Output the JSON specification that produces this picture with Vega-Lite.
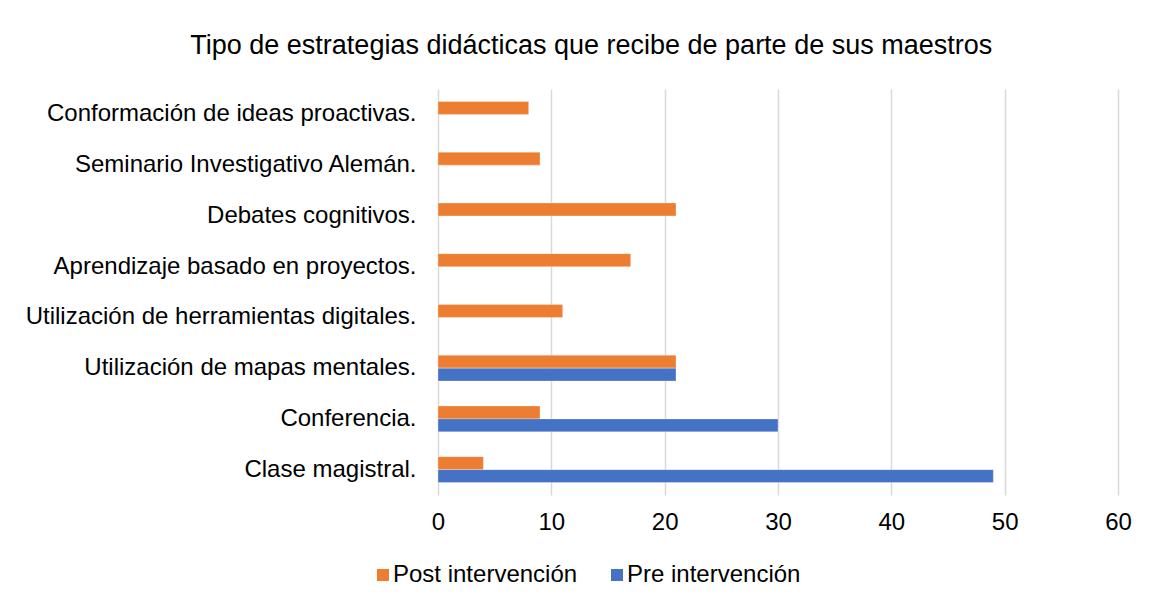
{
  "$schema": "https://vega.github.io/schema/vega-lite/v6.json",
  "width": 680,
  "height": 406,
  "autosize": {"type": "none"},
  "padding": {"left": 438, "top": 89, "right": 32, "bottom": 111},
  "background": "white",
  "title": {
    "text": "Tipo de estrategias didácticas que recibe de parte de sus maestros",
    "font": "Liberation Sans",
    "fontSize": 27,
    "fontWeight": "normal",
    "color": "#000000",
    "anchor": "middle",
    "frame": "bounds",
    "offset": 29,
    "dx": 13
  },
  "data": {
    "values": [
      {"estrategia": "Conformación de ideas proactivas.", "serie": "Post intervención", "valor": 8},
      {"estrategia": "Seminario Investigativo Alemán.", "serie": "Post intervención", "valor": 9},
      {"estrategia": "Debates cognitivos.", "serie": "Post intervención", "valor": 21},
      {"estrategia": "Aprendizaje basado en proyectos.", "serie": "Post intervención", "valor": 17},
      {"estrategia": "Utilización de herramientas digitales.", "serie": "Post intervención", "valor": 11},
      {"estrategia": "Utilización de mapas mentales.", "serie": "Post intervención", "valor": 21},
      {"estrategia": "Utilización de mapas mentales.", "serie": "Pre intervención", "valor": 21},
      {"estrategia": "Conferencia.", "serie": "Post intervención", "valor": 9},
      {"estrategia": "Conferencia.", "serie": "Pre intervención", "valor": 30},
      {"estrategia": "Clase magistral.", "serie": "Post intervención", "valor": 4},
      {"estrategia": "Clase magistral.", "serie": "Pre intervención", "valor": 49}
    ]
  },
  "mark": {"type": "bar", "stroke": "white", "strokeWidth": 0.6, "strokeOpacity": 0.5},
  "encoding": {
    "y": {
      "field": "estrategia",
      "type": "nominal",
      "sort": [
        "Conformación de ideas proactivas.",
        "Seminario Investigativo Alemán.",
        "Debates cognitivos.",
        "Aprendizaje basado en proyectos.",
        "Utilización de herramientas digitales.",
        "Utilización de mapas mentales.",
        "Conferencia.",
        "Clase magistral."
      ],
      "scale": {"paddingInner": 0.49, "paddingOuter": 0.245},
      "axis": {
        "title": null,
        "domain": false,
        "ticks": false,
        "labelPadding": 22,
        "labelFont": "Liberation Sans",
        "labelFontSize": 24,
        "labelColor": "#000000",
        "labelLimit": 500
      }
    },
    "yOffset": {
      "field": "serie",
      "type": "nominal",
      "sort": ["Post intervención", "Pre intervención"]
    },
    "x": {
      "field": "valor",
      "type": "quantitative",
      "scale": {"domain": [0, 60], "nice": false},
      "axis": {
        "title": null,
        "values": [0, 10, 20, 30, 40, 50, 60],
        "domain": false,
        "ticks": false,
        "labelFlush": false,
        "labelOverlap": false,
        "labelPadding": 15,
        "labelFont": "Liberation Sans",
        "labelFontSize": 24,
        "labelColor": "#000000",
        "gridColor": "#D9D9D9",
        "gridWidth": 1.5
      }
    },
    "color": {
      "field": "serie",
      "type": "nominal",
      "scale": {
        "domain": ["Post intervención", "Pre intervención"],
        "range": ["#ED7D31", "#4472C4"]
      },
      "legend": {
        "title": null,
        "orient": "none",
        "direction": "horizontal",
        "legendX": -67,
        "legendY": 474,
        "symbolType": "square",
        "symbolSize": 144,
        "symbolStrokeWidth": 0,
        "symbolOpacity": 1,
        "labelFont": "Liberation Sans",
        "labelFontSize": 24,
        "labelColor": "#000000",
        "labelOffset": -2,
        "columnPadding": 27,
        "labelLimit": 400
      }
    }
  },
  "config": {
    "view": {"stroke": null}
  }
}
